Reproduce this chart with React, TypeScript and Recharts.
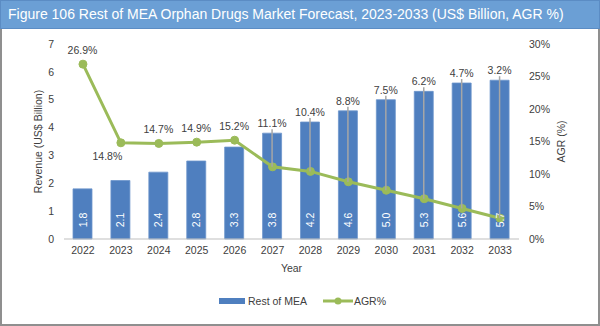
import React from 'react';
import { ComposedChart, Bar, Line, XAxis, YAxis, LabelList, Label } from 'recharts';

const years = ['2022', '2023', '2024', '2025', '2026', '2027', '2028', '2029', '2030', '2031', '2032', '2033'];
const revenue = [1.8, 2.1, 2.4, 2.8, 3.3, 3.8, 4.2, 4.6, 5.0, 5.3, 5.6, 5.7];
const agr = [26.9, 14.8, 14.7, 14.9, 15.2, 11.1, 10.4, 8.8, 7.5, 6.2, 4.7, 3.2];
const leftTicks = [0, 1, 2, 3, 4, 5, 6, 7];
const rightTicks = [0, 5, 10, 15, 20, 25, 30];

const LEFT_MAX = 7;
const RIGHT_MAX = 30;

const data = years.map((y, i) => ({ year: y, revenue: revenue[i], agr: agr[i] }));

const FONT = '"Liberation Sans", Arial, sans-serif';
const TEXT = '#404040';
const BAR = '#4f7fbf';
const GREEN = '#9bbb59';

const geom = (props: any) => {
  const vb = props.viewBox && props.viewBox.width != null ? props.viewBox : props;
  return { x: Number(vb.x), y: Number(vb.y), width: Number(vb.width), height: Number(vb.height) };
};

const BarValueLabel = (props: any) => {
  const { x, y, width, height } = geom(props);
  const idx = props.index;
  const cx = x + width / 2;
  const cy = y + height - 19;
  return (
    <text
      x={cx}
      y={cy}
      transform={`rotate(-90 ${cx} ${cy})`}
      textAnchor="middle"
      dominantBaseline="central"
      fill="#ffffff"
      fontSize={10.5}
      fontFamily={FONT}
    >
      {revenue[idx].toFixed(1)}
    </text>
  );
};

const AgrLabel = (props: any) => {
  const { x, y, width, height } = geom(props);
  const idx = props.index;
  const bottom = y + height;
  const plotH = (height / revenue[idx]) * LEFT_MAX;
  const py = bottom - (agr[idx] / RIGHT_MAX) * plotH;
  const cx = x + width / 2;
  let lx = cx;
  let ly = Math.min(py - 14, y - 10);
  if (idx === 1) {
    lx = cx - 13;
    ly = py + 13;
  }
  const showLine = idx !== 1 && py - ly > 22;
  return (
    <g>
      {showLine && (
        <line x1={cx} y1={ly + 6} x2={cx} y2={py} stroke="#a6a6a6" strokeWidth={1.5} />
      )}
      <text
        x={lx}
        y={ly}
        textAnchor="middle"
        dominantBaseline="central"
        fill={TEXT}
        fontSize={10.5}
        fontFamily={FONT}
      >
        {agr[idx].toFixed(1)}%
      </text>
    </g>
  );
};

const LeftTitle = (props: any) => {
  const vb = props.viewBox;
  const cx = vb.x + 4;
  const cy = vb.y + vb.height / 2;
  return (
    <text x={cx} y={cy} transform={`rotate(-90 ${cx} ${cy})`} textAnchor="middle" dominantBaseline="central" fill={TEXT} fontSize={10.5} fontFamily={FONT}>
      Revenue (US$ Billion)
    </text>
  );
};

const RightTitle = (props: any) => {
  const vb = props.viewBox;
  const cx = vb.x + 42;
  const cy = vb.y + vb.height / 2;
  return (
    <text x={cx} y={cy} transform={`rotate(-90 ${cx} ${cy})`} textAnchor="middle" dominantBaseline="central" fill={TEXT} fontSize={10.5} fontFamily={FONT}>
      AGR (%)
    </text>
  );
};

const XTitle = (props: any) => {
  const vb = props.viewBox;
  return (
    <text x={vb.x + vb.width / 2} y={vb.y + 33} textAnchor="middle" fill={TEXT} fontSize={10.5} fontFamily={FONT}>
      Year
    </text>
  );
};

export default function App() {
  return (
    <div style={{ position: 'absolute', left: 0, top: 0, width: 600, height: 326, background: '#fff', fontFamily: FONT }}>
      <div
        style={{
          position: 'absolute', left: 0, top: 0, width: 600, height: 326, boxSizing: 'border-box',
          borderLeft: '2px solid #8f8f8f', borderRight: '2px solid #8f8f8f', borderBottom: '2px solid #8f8f8f',
        }}
      />
      <div
        style={{
          position: 'absolute', left: 0, top: 0, width: 600, height: 29, boxSizing: 'border-box',
          background: '#6b9fd5', border: '1px solid #5b8cc4', color: '#fff', fontSize: 14,
          lineHeight: '27px', paddingLeft: 7, whiteSpace: 'nowrap',
        }}
      >
        Figure 106 Rest of MEA Orphan Drugs Market Forecast, 2023-2033 (US$ Billion, AGR %)
      </div>
      <div style={{ position: 'absolute', left: 0, top: 0 }}>
        <ComposedChart
          width={600}
          height={326}
          data={data}
          margin={{ top: 44, right: 31, bottom: 57, left: 34 }}
          barCategoryGap={0}
        >
          <XAxis
            dataKey="year"
            xAxisId="x"
            height={30}
            axisLine={{ stroke: '#bfbfbf' }}
            tickLine={false}
            tick={{ fill: TEXT, fontSize: 10.5, fontFamily: FONT }}
            interval={0}
          >
            <Label content={XTitle} />
          </XAxis>
          <YAxis
            yAxisId="left"
            orientation="left"
            width={30}
            domain={[0, LEFT_MAX]}
            ticks={leftTicks}
            axisLine={false}
            tickLine={false}
            tickMargin={4}
            tick={{ fill: TEXT, fontSize: 10.5, fontFamily: FONT }}
          >
            <Label content={LeftTitle} />
          </YAxis>
          <YAxis
            yAxisId="right"
            orientation="right"
            width={50}
            domain={[0, RIGHT_MAX]}
            ticks={rightTicks}
            tickFormatter={(v: number) => `${v}%`}
            axisLine={false}
            tickLine={false}
            tickMargin={4}
            tick={{ fill: TEXT, fontSize: 10.5, fontFamily: FONT, textAnchor: 'start' }}
          >
            <Label content={RightTitle} />
          </YAxis>
          <Bar
            dataKey="revenue"
            xAxisId="x"
            yAxisId="left"
            fill={BAR}
            stroke="#6d95cb"
            strokeWidth={0.8}
            barSize={19}
            isAnimationActive={false}
          >
            <LabelList dataKey="revenue" content={BarValueLabel} />
            <LabelList dataKey="agr" content={AgrLabel} />
          </Bar>
          <Line
            dataKey="agr"
            xAxisId="x"
            yAxisId="right"
            stroke={GREEN}
            strokeWidth={3}
            dot={{ r: 4, fill: GREEN, stroke: GREEN, strokeWidth: 1 }}
            activeDot={false}
            isAnimationActive={false}
          />
        </ComposedChart>
      </div>
      <div style={{ position: 'absolute', left: 219, top: 293, height: 16, display: 'flex', alignItems: 'center', fontSize: 10.5, color: TEXT, whiteSpace: 'nowrap' }}>
        <span style={{ display: 'inline-block', width: 26, height: 6, background: BAR, marginRight: 3 }} />
        <span>Rest of MEA</span>
        <svg width={30} height={10} style={{ marginLeft: 16, marginRight: 1 }}>
          <line x1={0} y1={5} x2={30} y2={5} stroke={GREEN} strokeWidth={3} />
          <circle cx={15} cy={5} r={3.5} fill={GREEN} />
        </svg>
        <span>AGR%</span>
      </div>
    </div>
  );
}
